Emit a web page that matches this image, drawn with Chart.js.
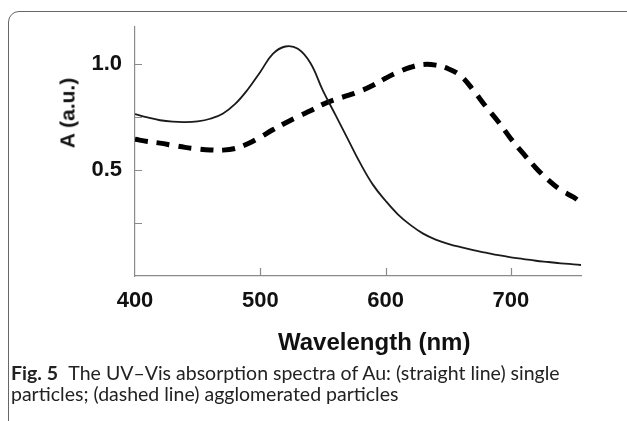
<!DOCTYPE html>
<html>
<head>
<meta charset="utf-8">
<script src="https://cdn.jsdelivr.net/npm/chart.js@4/dist/chart.umd.min.js"></script>
<style>
  html, body { margin: 0; padding: 0; background: #fff; }
  #wrap { position: relative; width: 627px; height: 421px; overflow: hidden; }
  #frame {
    position: absolute; left: 8px; top: 11px; width: 640px; height: 430px;
    border: 1.5px solid #666; border-radius: 11px; box-sizing: border-box;
  }
  #chart { position: absolute; left: 0; top: 0; }
  .axis-title {
    position: absolute; font-family: "Liberation Sans", Arial, sans-serif;
    font-weight: bold; color: #111; white-space: nowrap; line-height: 1;
  }
  #ytitle { left: 67px; top: 113px; font-size: 21px; transform: translate(-50%, -50%) rotate(-90deg); }
  #xtitle { left: 278px; top: 330px; font-size: 24px; }
  #caption {
    position: absolute; left: 11px; top: 362px; font-family: Lato, "Open Sans", sans-serif;
    font-size: 19.5px; line-height: 21px; color: #222; white-space: nowrap;
  }
  #caption b { margin-right: 6px; }
</style>
</head>
<body>
<div id="wrap">
  <div id="frame"></div>
  <canvas id="chart" width="627" height="421"></canvas>
  <div id="ytitle" class="axis-title">A (a.u.)</div>
  <div id="xtitle" class="axis-title">Wavelength (nm)</div>
  <div id="caption"><b>Fig. 5</b> The UV–Vis absorption spectra of Au: (straight line) single<br>particles; (dashed line) agglomerated particles</div>
</div>
<script>
// wavelength grid (nm)
const wavelengths = [400, 410, 420, 430, 440, 450, 460, 470, 480, 490, 500, 510, 520, 530, 540, 550,
  560, 570, 580, 590, 600, 610, 620, 630, 640, 650, 660, 670, 680, 690, 700, 710, 720, 730, 740, 750, 756];

// single particles (solid)
const singleAbs = [0.764, 0.748, 0.735, 0.728, 0.726, 0.730, 0.742, 0.766, 0.812, 0.880, 0.963, 1.048, 1.083, 1.072, 1.005, 0.875,
  0.760, 0.645, 0.530, 0.430, 0.355, 0.290, 0.240, 0.200, 0.172, 0.152, 0.136, 0.122, 0.110, 0.098, 0.088, 0.080, 0.072, 0.066, 0.060, 0.055, 0.052];

// agglomerated particles (dashed)
const aggloAbs = [0.645, 0.635, 0.627, 0.617, 0.607, 0.600, 0.595, 0.594, 0.602, 0.624, 0.655, 0.690, 0.722, 0.752, 0.780, 0.810,
  0.833, 0.852, 0.873, 0.900, 0.933, 0.962, 0.985, 0.998, 0.995, 0.978, 0.945, 0.877, 0.800, 0.728, 0.648, 0.577, 0.510, 0.452, 0.405, 0.372, 0.345];

const xTickLabels = [400, 500, 600, 700];
const yTickLabels = [0.5, 1.0];
const xTickMarks = [500, 600, 700];
const yTickMarks = [0.25, 0.5, 0.75, 1.0];

const toPoints = ys => wavelengths.map((w, i) => ({ x: w, y: ys[i] }));

// short inward tick marks on both axes
const innerTicks = {
  id: "innerTicks",
  afterDraw(chart) {
    const { ctx, chartArea: a, scales: { x, y } } = chart;
    ctx.save();
    ctx.strokeStyle = "#8a8a8a";
    ctx.lineWidth = 1.2;
    ctx.beginPath();
    yTickMarks.forEach(v => {
      const py = Math.round(y.getPixelForValue(v)) + 0.5;
      ctx.moveTo(a.left, py);
      ctx.lineTo(a.left + 7, py);
    });
    xTickMarks.forEach(v => {
      const px = Math.round(x.getPixelForValue(v)) + 0.5;
      ctx.moveTo(px, a.bottom);
      ctx.lineTo(px, a.bottom - 8);
    });
    ctx.stroke();
    ctx.restore();
  }
};

const tickFont = { family: "'Liberation Sans', Arial, sans-serif", size: 22, weight: "bold" };

new Chart(document.getElementById("chart"), {
  type: "line",
  data: {
    datasets: [
      {
        label: "single particles",
        data: toPoints(singleAbs),
        borderColor: "#1a1a1a",
        borderWidth: 1.8,
        tension: 0.4,
        pointRadius: 0
      },
      {
        label: "agglomerated particles",
        data: toPoints(aggloAbs),
        borderColor: "#000",
        borderWidth: 5,
        borderDash: [13, 9],
        borderCapStyle: "butt",
        tension: 0.4,
        pointRadius: 0
      }
    ]
  },
  options: {
    responsive: false,
    animation: false,
    layout: { padding: { left: 0, top: 27, right: 46, bottom: 105 } },
    plugins: { legend: { display: false }, tooltip: { enabled: false } },
    scales: {
      x: {
        type: "linear",
        min: 400,
        max: 756,
        grid: { display: false },
        border: { display: true, color: "#8a8a8a", width: 1.2 },
        afterBuildTicks: s => { s.ticks = xTickLabels.map(v => ({ value: v })); },
        afterFit: s => { s.height = 40; },
        ticks: { color: "#111", font: tickFont, padding: 4, maxRotation: 0, autoSkip: false }
      },
      y: {
        min: 0,
        max: 1.175,
        grid: { display: false },
        border: { display: true, color: "#8a8a8a", width: 1.2 },
        afterBuildTicks: s => { s.ticks = yTickLabels.map(v => ({ value: v })); },
        afterFit: s => { s.width = 135; },
        ticks: { color: "#111", font: tickFont, padding: 5, callback: v => v.toFixed(1) }
      }
    }
  },
  plugins: [innerTicks]
});
</script>
</body>
</html>
